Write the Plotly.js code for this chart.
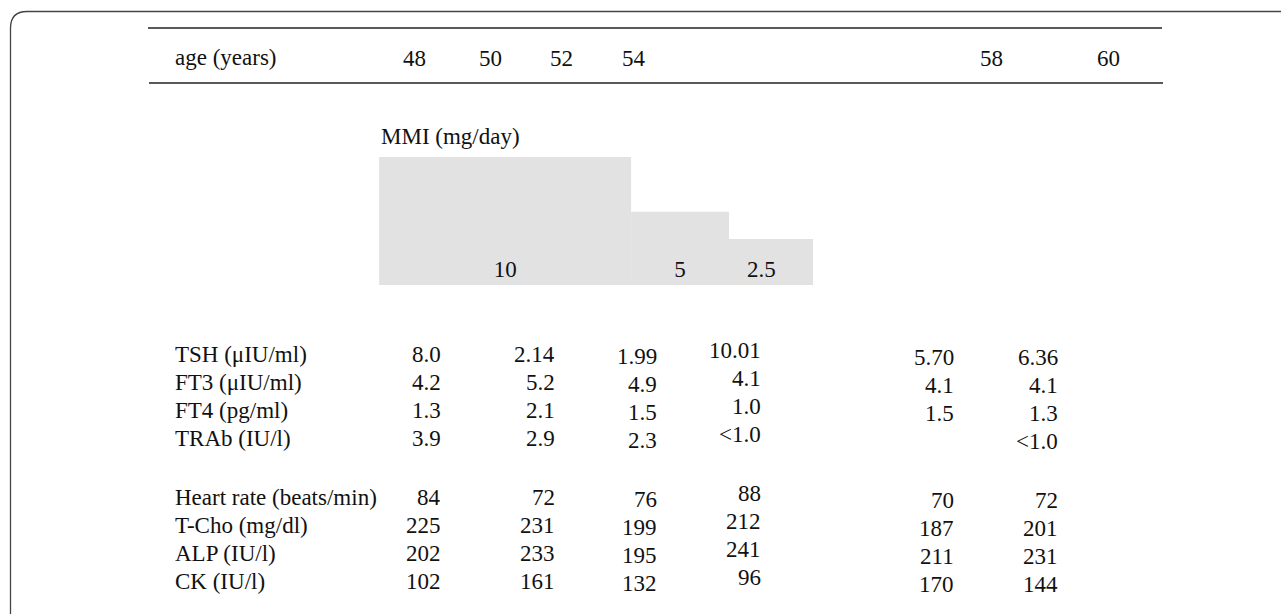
<!DOCTYPE html>
<html>
<head>
<meta charset="utf-8">
<script src="https://cdn.plot.ly/plotly-3.0.1.min.js"></script>
<style>html,body{margin:0;padding:0;background:#fff;}#chart{width:1281px;height:614px;}</style>
</head>
<body>
<div id="chart"></div>
<script>
// ---------- DATA ----------
const ages = ["48", "50", "52", "54", "58", "60"];
const mmiDose = [10, 5, 2.5];
const mmiDoseLabel = ["10", "5", "2.5"];
const mmiStartAge = [47.05, 53.92, 56.07];
const mmiEndAge = [53.92, 56.59, 58.88];

const thyroidRows = ["TSH (μIU/ml)", "FT3 (μIU/ml)", "FT4 (pg/ml)", "TRAb (IU/l)"];
const tsh  = ["8.0", "2.14", "1.99", "10.01", "5.70", "6.36"];
const ft3  = ["4.2", "5.2", "4.9", "4.1", "4.1", "4.1"];
const ft4  = ["1.3", "2.1", "1.5", "1.0", "1.5", "1.3"];
const trab = ["3.9", "2.9", "2.3", "<1.0", "", "<1.0"];

const otherRows = ["Heart rate (beats/min)", "T-Cho (mg/dl)", "ALP (IU/l)", "CK (IU/l)"];
const heartRate = ["84", "72", "76", "88", "70", "72"];
const tCho = ["225", "231", "199", "212", "187", "201"];
const alp  = ["202", "233", "195", "241", "211", "231"];
const ck   = ["102", "161", "132", "96", "170", "144"];

// ---------- LAYOUT CONSTANTS (pixel frame) ----------
const W = 1281, H = 614;
const FONT = "Liberation Serif, Times New Roman, serif";
const FS = 23;
const ageHeaderX = [414, 490, 561, 634, 991, 1108];
const valueColRight = [443, 557, 659, 763, 956, 1060];
const valueColDy = [0, 0, 2, -4, 3, 3];
const labelX = 173;
const rowY1 = [354, 382, 410, 438];
const rowY2 = [497, 525, 553, 581];
const baseDose = -1.7;           // visual baseline of dose bars
const pxPerYear = 36.67, age48px = 414;
const doseBasePx = 285, pxPerDose = 10.94;

const ageRange = [48 - age48px / pxPerYear, 48 + (W - age48px) / pxPerYear];
const doseRange = [baseDose - (H - doseBasePx) / pxPerDose, baseDose + doseBasePx / pxPerDose];

const barTrace = {
  type: "bar",
  x: mmiStartAge.map((s, i) => (s + mmiEndAge[i]) / 2),
  width: mmiStartAge.map((s, i) => mmiEndAge[i] - s),
  y: mmiDose.map(d => d - baseDose),
  base: baseDose,
  marker: {color: "#e2e2e2", line: {width: 0}},
  text: mmiDoseLabel,
  textposition: "inside",
  insidetextanchor: "start",
  textangle: 0,
  textfont: {family: FONT, size: FS, color: "#111"},
  hoverinfo: "skip",
  xaxis: "x", yaxis: "y",
  cliponaxis: false
};

const ann = [];
function txt(x, y, t, anchor) {
  ann.push({xref: "x2", yref: "y2", x: x, y: y, text: t, showarrow: false,
            xanchor: anchor, yanchor: "middle",
            font: {family: FONT, size: FS, color: "#111"}});
}
txt(labelX, 57, "age (years)", "left");
ages.forEach((a, i) => txt(ageHeaderX[i], 58, a, "center"));
txt(379, 136, "MMI (mg/day)", "left");

const block1 = [tsh, ft3, ft4, trab];
const block2 = [heartRate, tCho, alp, ck];
thyroidRows.forEach((r, i) => {
  txt(labelX, rowY1[i], r, "left");
  block1[i].forEach((v, j) => { if (v) txt(valueColRight[j], rowY1[i] + valueColDy[j], v, "right"); });
});
otherRows.forEach((r, i) => {
  txt(labelX, rowY2[i], r, "left");
  block2[i].forEach((v, j) => { if (v) txt(valueColRight[j], rowY2[i] + valueColDy[j], v, "right"); });
});

const shapes = [
  {type: "path", xref: "x2", yref: "y2", path: "M 10.5 614 L 10.5 28 Q 10.5 11.5 27 11.5 L 1281 11.5",
   line: {color: "#444", width: 1.3}},
  {type: "line", xref: "x2", yref: "y2", x0: 148, x1: 1162, y0: 28, y1: 28, line: {color: "#222", width: 1.5}},
  {type: "line", xref: "x2", yref: "y2", x0: 149, x1: 1163, y0: 83, y1: 83, line: {color: "#222", width: 1.5}}
];

const layout = {
  width: W, height: H,
  margin: {l: 0, r: 0, t: 0, b: 0},
  paper_bgcolor: "#fff", plot_bgcolor: "rgba(0,0,0,0)",
  showlegend: false,
  xaxis: {range: ageRange, visible: false, fixedrange: true},
  yaxis: {range: doseRange, visible: false, fixedrange: true},
  xaxis2: {range: [0, W], visible: false, overlaying: "x", fixedrange: true},
  yaxis2: {range: [H, 0], visible: false, overlaying: "y", fixedrange: true},
  annotations: ann,
  shapes: shapes
};

Plotly.newPlot("chart", [barTrace], layout, {staticPlot: true, displayModeBar: false});
</script>
</body>
</html>
